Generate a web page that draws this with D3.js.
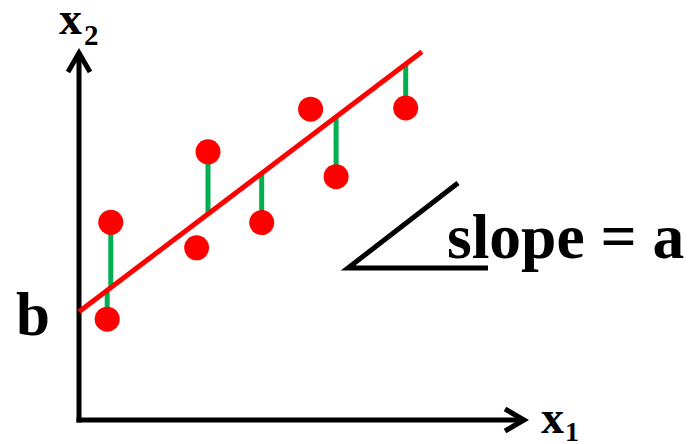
<!DOCTYPE html>
<html>
<head>
<meta charset="utf-8">
<script src="https://cdn.jsdelivr.net/npm/d3@7"></script>
<style>
  html, body { margin: 0; padding: 0; background: #fff; }
  svg { display: block; }
  .lbl { font-family: "Liberation Serif", "Times New Roman", serif; font-weight: 700; fill: #000; }
</style>
</head>
<body>
<svg id="chart" width="692" height="444"></svg>
<script>
// Observations (x1, x2)
const pointX = [0.94, 1.06, 3.92, 4.30, 6.09, 7.72, 8.57, 10.89];
const pointY = [3.36, 6.59, 5.74, 8.94, 6.58, 10.36, 8.11, 10.40];
// Which observations show their vertical residual to the fitted line
const showResidual = [true, true, false, true, true, false, true, true];

// Fitted line x2 = a * x1 + b
const intercept = 3.61;
const slope = 0.758;
const lineXRange = [0, 11.43];

// Axis extents
const xDomain = [0, 14.9];
const yDomain = [0, 12.3];

const svg = d3.select("#chart");
const x = d3.scaleLinear().domain(xDomain).range([79, 526]);
const y = d3.scaleLinear().domain(yDomain).range([420, 51]);

const fit = v => slope * v + intercept;

// Residual segments (drawn beneath the line and points)
svg.append("g")
  .selectAll("line")
  .data(pointX.map((v, i) => ({ x: v, y: pointY[i], show: showResidual[i] })).filter(d => d.show))
  .join("line")
  .attr("x1", d => x(d.x)).attr("x2", d => x(d.x))
  .attr("y1", d => y(fit(d.x))).attr("y2", d => y(d.y))
  .attr("stroke", "#00b050")
  .attr("stroke-width", 5);

// Axes with open arrowheads
const axes = svg.append("g").attr("stroke", "#000").attr("stroke-width", 5).attr("fill", "none")
  .attr("stroke-linecap", "butt").attr("stroke-linejoin", "miter");
const x0 = x(0), y0 = y(0);
const xEnd = x(xDomain[1]), yEnd = y(yDomain[1]);
axes.append("path").attr("d", `M${x0},${y0 + 2.5}L${x0},${yEnd + 2}`);
axes.append("path").attr("d", `M${x0 - 2.5},${y0}L${xEnd - 2},${y0}`);
axes.append("path").attr("d", `M${x0 - 11},${yEnd + 21}L${x0},${yEnd + 2}L${x0 + 11},${yEnd + 21}`);
axes.append("path").attr("d", `M${xEnd - 21},${y0 - 11}L${xEnd - 2},${y0}L${xEnd - 21},${y0 + 11}`);

// Fitted line
svg.append("line")
  .attr("x1", x(lineXRange[0])).attr("y1", y(fit(lineXRange[0])))
  .attr("x2", x(lineXRange[1])).attr("y2", y(fit(lineXRange[1])))
  .attr("stroke", "#ff0000")
  .attr("stroke-width", 5);

// Observations
svg.append("g")
  .selectAll("circle")
  .data(pointX.map((v, i) => ({ x: v, y: pointY[i] })))
  .join("circle")
  .attr("cx", d => x(d.x))
  .attr("cy", d => y(d.y))
  .attr("r", 12.5)
  .attr("fill", "#ff0000");

// Slope indicator
svg.append("path")
  .attr("d", "M458,183L348,268L488,268")
  .attr("fill", "none")
  .attr("stroke", "#000")
  .attr("stroke-width", 5)
  .attr("stroke-linejoin", "miter");

// Labels
const x2Label = svg.append("text").attr("class", "lbl").attr("x", 59).attr("y", 34).style("font-size", "46px");
x2Label.append("tspan").text("x");
x2Label.append("tspan").attr("x", 84).attr("y", 45).style("font-size", "29px").text("2");

const x1Label = svg.append("text").attr("class", "lbl").attr("x", 541).attr("y", 433).style("font-size", "46px");
x1Label.append("tspan").text("x");
x1Label.append("tspan").attr("x", 565).attr("y", 441).style("font-size", "28px").text("1");

svg.append("text").attr("class", "lbl").attr("x", 16).attr("y", 335).style("font-size", "61px").text("b");
svg.append("text").attr("class", "lbl").attr("x", 447).attr("y", 258).style("font-size", "63.5px").text("slope = a");
</script>
</body>
</html>
